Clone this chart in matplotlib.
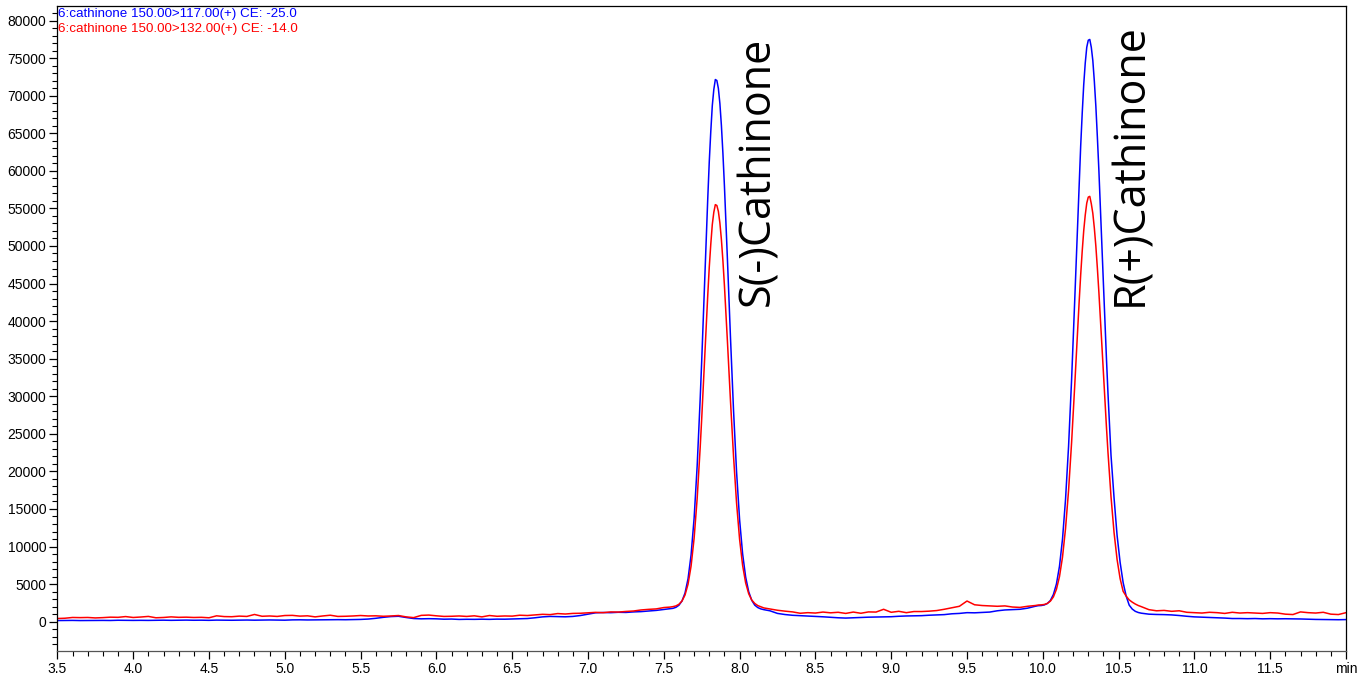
"""
Chiral LC-MS/MS chromatogram of cathinone enantiomers (two MRM transitions).
Saves out.png
"""

import numpy as np
import matplotlib
matplotlib.use("Agg")
import matplotlib.pyplot as plt
from matplotlib.ticker import MultipleLocator, FixedLocator, FixedFormatter, FuncFormatter

# ── Data ──────────────────────────────────────────────────
# retention-time grid in min: coarse on the baseline, finer across the peaks
time_min = np.round(np.concatenate([
    np.arange(3.50, 7.501, 0.05),
    np.arange(7.52, 7.741, 0.02),
    np.arange(7.75, 7.931, 0.01),
    np.arange(7.94, 8.201, 0.02),
    np.arange(8.25, 9.951, 0.05),
    np.arange(9.97, 10.191, 0.02),
    np.arange(10.20, 10.421, 0.01),
    np.arange(10.43, 10.651, 0.02),
    np.arange(10.70, 12.001, 0.05),
]), 2)

# 150.00 > 117.00, CE -25.0
blue_trace = [
    # 3.50 - 7.50
    150, 160, 170, 150, 160, 180, 170, 160, 190, 180,
    170, 180, 170, 190, 200, 180, 200, 210, 190, 200,
    180, 210, 200, 190, 210, 220, 200, 220, 230, 210,
    200, 240, 250, 230, 240, 260, 250, 270, 260, 280,
    300, 350, 450, 580, 680, 720, 560, 420, 380, 400,
    380, 330, 350, 300, 320, 310, 330, 310, 340, 330,
    360, 380, 420, 520, 640, 700, 680, 650, 700, 820,
    1000, 1180, 1220, 1200, 1250, 1230, 1300, 1340, 1420, 1500,
    1620,
    # 7.52 - 7.74
    1660, 1710, 1775, 1910, 2190, 2750, 3810, 5715, 8890, 13770, 20670, 29620,
    # 7.75 - 7.93  S(-)cathinone apex
    34660, 40140, 45580, 51160, 56310, 61220, 65250, 68680, 70830, 72150,
    72020, 70970, 68960, 66030, 62320, 57980, 53180, 48100, 42910,
    # 7.94 - 8.20
    37760, 28130, 19940, 13580, 9020, 5940, 4000, 2850, 2200, 1880,
    1700, 1600, 1520, 1450,
    # 8.25 - 9.95
    1100, 950, 850, 800, 750, 700, 650, 580, 520, 480,
    520, 560, 600, 620, 640, 660, 720, 760, 780, 800,
    860, 900, 940, 1050, 1100, 1200, 1180, 1230, 1280, 1450,
    1560, 1600, 1650, 1800, 2050,
    # 9.97 - 10.19
    2130, 2150, 2230, 2420, 2820, 3620, 5020, 7360, 10980, 16270, 23330, 32210,
    # 10.20 - 10.42  R(+)cathinone apex
    37150, 42440, 47760, 53210, 58360, 63330, 67640, 71470, 74330, 76440,
    77380, 77480, 76430, 74680, 71920, 68600, 64490, 60050, 55130, 50120,
    44940, 39920, 34980,
    # 10.43 - 10.65
    30380, 22140, 16500, 11500, 7900, 5200, 3400, 2200, 1680, 1380, 1220, 1130,
    # 10.70 - 12.00
    1000, 960, 940, 900, 820, 720, 640, 600, 560, 520,
    480, 420, 420, 400, 420, 380, 400, 380, 390, 380,
    360, 330, 300, 290, 280, 260, 280,
]

# 150.00 > 132.00, CE -14.0
red_trace = [
    # 3.50 - 7.50
    420, 460, 560, 540, 560, 500, 540, 600, 580, 680,
    560, 620, 700, 520, 560, 640, 580, 600, 560, 580,
    520, 780, 680, 660, 740, 700, 960, 720, 760, 700,
    820, 840, 740, 780, 640, 760, 860, 700, 720, 760,
    820, 760, 780, 720, 760, 820, 640, 540, 840, 880,
    780, 700, 720, 760, 700, 780, 640, 820, 720, 760,
    740, 860, 820, 900, 980, 940, 1080, 1020, 1100, 1120,
    1180, 1240, 1200, 1300, 1280, 1360, 1420, 1560, 1640, 1700,
    1880,
    # 7.52 - 7.74
    1910, 1940, 2000, 2100, 2320, 2750, 3550, 4990, 7400, 11100, 16350, 23160,
    # 7.75 - 7.93
    26980, 31160, 35290, 39540, 43450, 47190, 50250, 52860, 54490, 55500,
    55390, 54600, 53070, 50850, 48020, 44720, 41080, 37210, 33270,
    # 7.94 - 8.20
    29350, 22020, 15800, 10960, 7490, 5160, 3720, 2880, 2425, 2140,
    1980, 1830, 1760, 1700,
    # 8.25 - 9.95
    1520, 1400, 1300, 1120, 1200, 1150, 1280, 1180, 1250, 1100,
    1280, 1120, 1300, 1280, 1650, 1250, 1380, 1200, 1350, 1350,
    1400, 1480, 1650, 1850, 2050, 2750, 2250, 2150, 2100, 2050,
    2100, 1950, 1900, 2050, 2150,
    # 9.97 - 10.19
    2220, 2240, 2290, 2430, 2730, 3300, 4310, 5990, 8590, 12390, 17460, 23840,
    # 10.20 - 10.42
    27400, 31180, 35020, 38920, 42630, 46180, 49300, 52030, 54110, 55700,
    56500, 56600, 55620, 54340, 52380, 49980, 47050, 43840, 40320, 36710,
    33010, 29390, 25860,
    # 10.43 - 10.65
    22540, 16630, 11870, 8280, 5740, 4040, 3400, 2900, 2600, 2350, 2150, 2000,
    # 10.70 - 12.00
    1600, 1450, 1500, 1380, 1450, 1250, 1200, 1150, 1250, 1200,
    1100, 1250, 1150, 1200, 1150, 1100, 1200, 1150, 1000, 950,
    1300, 1200, 1150, 1250, 1000, 950, 1200,
]

trace_labels = ["6:cathinone 150.00>117.00(+) CE: -25.0",
                "6:cathinone 150.00>132.00(+) CE: -14.0"]
trace_colors = ["#0000FF", "#FF0000"]

peak_names = ["S(-)Cathinone", "R(+)Cathinone"]
peak_label_x = [8.12, 10.585]
peak_label_y = [42000, 42000]

x_major = [3.5, 4.0, 4.5, 5.0, 5.5, 6.0, 6.5, 7.0, 7.5, 8.0, 8.5,
           9.0, 9.5, 10.0, 10.5, 11.0, 11.5, 12.0]
x_labels = ["3.5", "4.0", "4.5", "5.0", "5.5", "6.0", "6.5", "7.0", "7.5",
            "8.0", "8.5", "9.0", "9.5", "10.0", "10.5", "11.0", "11.5", "min"]

# ── Plot ──────────────────────────────────────────────────
plt.rcParams["font.family"] = ["Liberation Sans", "DejaVu Sans"]

fig = plt.figure(figsize=(13.6, 6.84), dpi=100)
ax = fig.add_axes([0.0422, 0.0487, 0.9475, 0.9425])

ax.plot(time_min, blue_trace, color=trace_colors[0], linewidth=1.1)
ax.plot(time_min, red_trace, color=trace_colors[1], linewidth=1.1)

ax.set_xlim(3.5, 12.0)
ax.set_ylim(-3860, 81930)

ax.xaxis.set_major_locator(FixedLocator(x_major))
ax.xaxis.set_major_formatter(FixedFormatter(x_labels))
ax.xaxis.set_minor_locator(MultipleLocator(0.1))
ax.yaxis.set_major_locator(FixedLocator(list(range(0, 80001, 5000))))
ax.yaxis.set_minor_locator(MultipleLocator(1000))
ax.yaxis.set_major_formatter(FuncFormatter(lambda v, p: f"{int(v)}"))

ax.tick_params(which="major", direction="out", length=6, width=0.9,
               labelsize=10, colors="black", pad=2)
ax.tick_params(which="minor", direction="out", length=3.5, width=0.8)

for side in ["top", "right", "left", "bottom"]:
    ax.spines[side].set_linewidth(0.9)
    ax.spines[side].set_color("black")
ax.spines["bottom"].set_color("#555555")

# transition labels, top-left
for i, (lab, col) in enumerate(zip(trace_labels, trace_colors)):
    ax.text(0.0005, 0.997 - i * 0.0235, lab, transform=ax.transAxes,
            color=col, fontsize=9.6, ha="left", va="top")

# peak names
for name, px, py in zip(peak_names, peak_label_x, peak_label_y):
    ax.text(px, py, name, rotation=90, fontsize=31, family="Open Sans",
            ha="center", va="bottom", color="black")

fig.savefig("out.png", dpi=100)
plt.close(fig)
